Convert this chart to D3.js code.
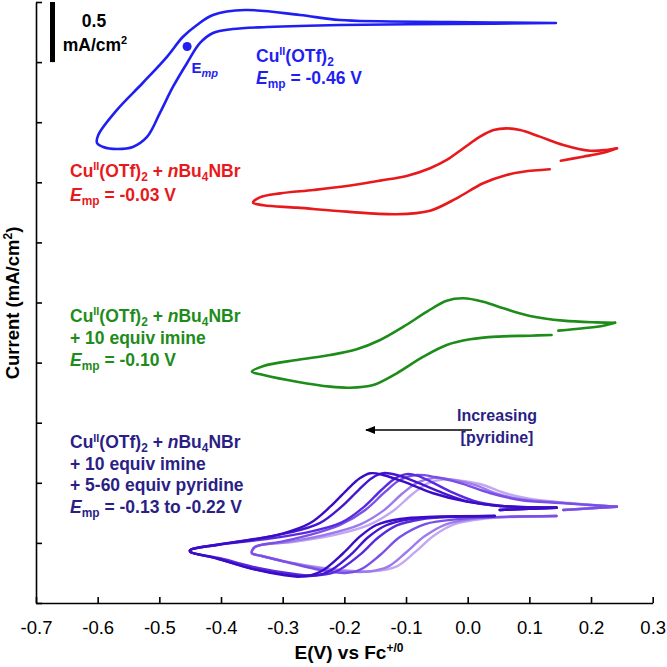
<!DOCTYPE html>
<html><head><meta charset="utf-8">
<script src="https://cdn.jsdelivr.net/npm/d3@7"></script>
<style>body{margin:0;background:#fff} svg{display:block} text{font-family:"Liberation Sans",Arial,sans-serif}</style>
</head><body><svg id="c" width="667" height="667"></svg>
<script>
// ---- data ----
const xTicks = [-0.7,-0.6,-0.5,-0.4,-0.3,-0.2,-0.1,0.0,0.1,0.2,0.3];
const yTicks = [0,0.5,1.0,1.5,2.0,2.5,3.0,3.5,4.0,4.5,5.0];
// [E (V), current incl. vertical offset (mA/cm2)]
const blueCV = [[0.143,4.825],[-0.029,4.834],[-0.207,4.850],[-0.272,4.892],[-0.361,4.933],[-0.413,4.892],[-0.439,4.809],[-0.462,4.709],[-0.488,4.542],[-0.527,4.326],[-0.569,4.101],[-0.599,3.894],[-0.601,3.827],
 [-0.591,3.794],[-0.569,3.777],[-0.543,3.794],[-0.520,3.877],[-0.499,4.077],[-0.478,4.293],[-0.455,4.493],[-0.434,4.659],[-0.413,4.742],[-0.381,4.775],[-0.325,4.792],[-0.207,4.809],[-0.029,4.817],[0.143,4.825]];
const redCVa = [[0.151,3.680],[0.187,3.713],[0.220,3.746],[0.242,3.783]];
const redCVb = [[0.242,3.783],[0.225,3.769],[0.198,3.763],[0.155,3.811],[0.117,3.880],[0.085,3.935],[0.063,3.949],[0.042,3.935],[0.020,3.880],[-0.007,3.783],[-0.034,3.686],[-0.061,3.617],[-0.099,3.553],[-0.142,3.514],[-0.196,3.469],[-0.250,3.436],[-0.304,3.408],[-0.337,3.375],[-0.348,3.331],
 [-0.331,3.309],[-0.277,3.289],[-0.196,3.256],[-0.115,3.234],[-0.061,3.264],[-0.018,3.367],[0.025,3.492],[0.063,3.561],[0.090,3.588],[0.133,3.608]];
const greenCVa = [[0.147,2.266],[0.187,2.286],[0.220,2.307],[0.239,2.332]];
const greenCVb = [[0.239,2.332],[0.209,2.335],[0.155,2.349],[0.101,2.388],[0.058,2.452],[0.025,2.507],[-0.007,2.535],[-0.034,2.515],[-0.066,2.424],[-0.104,2.299],[-0.142,2.188],[-0.180,2.111],[-0.223,2.063],[-0.277,2.022],[-0.331,1.972],[-0.350,1.924],
 [-0.331,1.897],[-0.277,1.841],[-0.223,1.800],[-0.191,1.791],[-0.153,1.814],[-0.115,1.911],[-0.072,2.049],[-0.034,2.147],[0.004,2.194],[0.047,2.216],[0.101,2.224],[0.136,2.230]];
// pyridine series, most pyridine (darkest) first
const pyr1a = [[0.052,0.774],[0.144,0.793]];
const pyr1b = [[0.144,0.793],[0.052,0.807],[-0.002,0.843],[-0.056,0.913],[-0.104,1.009],[-0.137,1.065],[-0.158,1.079],[-0.175,1.037],[-0.196,0.940],[-0.223,0.801],[-0.256,0.663],[-0.299,0.580],[-0.353,0.524],[-0.407,0.483],[-0.450,0.441],
 [-0.450,0.427],[-0.407,0.372],[-0.353,0.289],[-0.299,0.233],[-0.272,0.219],[-0.239,0.260],[-0.202,0.414],[-0.175,0.552],[-0.148,0.649],[-0.110,0.699],[-0.056,0.718],[0.044,0.724]];
const pyr2a = [[0.052,0.774],[0.144,0.793]];
const pyr2b = [[0.144,0.793],[0.052,0.807],[0.000,0.845],[-0.040,0.915],[-0.085,1.010],[-0.115,1.065],[-0.137,1.080],[-0.155,1.040],[-0.177,0.940],[-0.205,0.800],[-0.240,0.665],[-0.290,0.585],[-0.353,0.526],[-0.407,0.485],[-0.450,0.441],
 [-0.450,0.427],[-0.407,0.370],[-0.353,0.290],[-0.300,0.240],[-0.262,0.222],[-0.228,0.255],[-0.190,0.400],[-0.162,0.545],[-0.133,0.645],[-0.095,0.697],[-0.045,0.716],[0.044,0.724]];
const pyr3a = [[0.052,0.774],[0.144,0.793]];
const pyr3b = [[0.144,0.793],[0.052,0.810],[0.010,0.850],[-0.025,0.920],[-0.060,1.010],[-0.082,1.060],[-0.099,1.072],[-0.118,1.035],[-0.140,0.940],[-0.168,0.800],[-0.205,0.668],[-0.260,0.588],[-0.330,0.530],[-0.400,0.487],[-0.450,0.441],
 [-0.450,0.427],[-0.400,0.370],[-0.340,0.292],[-0.290,0.248],[-0.250,0.228],[-0.215,0.258],[-0.175,0.400],[-0.145,0.545],[-0.115,0.645],[-0.075,0.697],[-0.030,0.716],[0.044,0.724]];
const pyr4a = [[0.155,0.774],[0.242,0.801]];
const pyr4b = [[0.242,0.801],[0.198,0.815],[0.150,0.832],[0.085,0.857],[0.036,0.915],[-0.012,0.998],[-0.053,1.048],[-0.082,1.065],[-0.110,1.023],[-0.134,0.924],[-0.166,0.774],[-0.207,0.649],[-0.256,0.566],[-0.304,0.508],[-0.345,0.466],[-0.350,0.416],
 [-0.334,0.391],[-0.288,0.333],[-0.239,0.275],[-0.199,0.250],[-0.175,0.275],[-0.142,0.399],[-0.110,0.549],[-0.069,0.657],[-0.012,0.699],[0.052,0.716],[0.144,0.724]];
const pyr5a = [[0.155,0.774],[0.242,0.801]];
const pyr5b = [[0.242,0.801],[0.198,0.815],[0.150,0.835],[0.090,0.862],[0.050,0.905],[0.010,0.985],[-0.030,1.030],[-0.056,1.040],[-0.080,1.005],[-0.105,0.915],[-0.135,0.775],[-0.175,0.652],[-0.230,0.568],[-0.290,0.510],[-0.345,0.466],[-0.350,0.416],
 [-0.334,0.391],[-0.288,0.336],[-0.239,0.290],[-0.195,0.262],[-0.160,0.262],[-0.130,0.300],[-0.100,0.420],[-0.070,0.555],[-0.035,0.655],[0.010,0.700],[0.060,0.716],[0.144,0.724]];
const pyr6a = [[0.155,0.774],[0.242,0.801]];
const pyr6b = [[0.242,0.801],[0.198,0.818],[0.150,0.838],[0.100,0.868],[0.060,0.915],[0.020,0.990],[-0.015,1.020],[-0.040,1.028],[-0.065,0.995],[-0.090,0.905],[-0.120,0.770],[-0.160,0.650],[-0.215,0.567],[-0.280,0.510],[-0.345,0.466],[-0.350,0.416],
 [-0.334,0.391],[-0.288,0.338],[-0.239,0.295],[-0.190,0.268],[-0.150,0.265],[-0.115,0.305],[-0.085,0.425],[-0.055,0.560],[-0.020,0.658],[0.025,0.700],[0.075,0.716],[0.144,0.724]];
const empPoint = [-0.455, 4.63];
const pyrColors = ["#3a0cc6","#4516d2","#5a2ade","#7a4fe6","#9d7bec","#c2a8f3"];

// ---- chart ----
const svg = d3.select('#c');
const x = d3.scaleLinear().domain([-0.7,0.3]).range([36,652.7]);
const y = d3.scaleLinear().domain([0,5]).range([603,2]);
const line = d3.line().x(d=>x(d[0])).y(d=>y(d[1])).curve(d3.curveCatmullRom.alpha(0.5));

svg.append('g').attr('transform','translate(0,603)')
  .call(d3.axisBottom(x).tickValues(xTicks).tickSize(-6).tickSizeOuter(0).tickPadding(18).tickFormat(d=>d.toFixed(1)))
  .call(g=>{g.selectAll('path,line').attr('stroke','#000').attr('stroke-width',1.6);
            g.selectAll('text').attr('font-size',18.5).attr('fill','#000').attr('font-family','"Liberation Sans",Arial,sans-serif');});
svg.append('g').attr('transform','translate(36,0)')
  .call(d3.axisLeft(y).tickValues(yTicks).tickSize(-6).tickSizeOuter(0).tickFormat(''))
  .call(g=>g.selectAll('path,line').attr('stroke','#000').attr('stroke-width',1.6));

function curve(data, color, w){
  svg.append('path').datum(data).attr('d',line).attr('fill','none').attr('stroke',color)
    .attr('stroke-width',w).attr('stroke-linejoin','round').attr('stroke-linecap','round');
}
const BLUE='#1f1ff2', RED='#e8191c', GREEN='#1e8c1a', NAVY='#2b1f85';
curve(blueCV, BLUE, 2.6);
curve(redCVa, RED, 2.6); curve(redCVb, RED, 2.6);
curve(greenCVa, GREEN, 2.6); curve(greenCVb, GREEN, 2.6);
const pyr = [[pyr6a,pyr6b],[pyr5a,pyr5b],[pyr4a,pyr4b],[pyr3a,pyr3b],[pyr2a,pyr2b],[pyr1a,pyr1b]];
pyr.forEach((p,i)=>{ const c = pyrColors[5-i]; curve(p[0],c,2.4); curve(p[1],c,2.4); });
svg.append('circle').attr('cx',x(empPoint[0])).attr('cy',y(empPoint[1])).attr('r',4.5).attr('fill',BLUE);

// rich text helper: each line is its own <text>
function rich(px, py, lines, color, size, lh){
  lines.forEach((parts,li)=>{
    const t = svg.append('text').attr('x',px).attr('y',py+li*lh).attr('fill',color).attr('font-size',size).attr('font-weight','bold');
    let cur = 0;
    parts.forEach(p=>{
      let shift=0, fs=size;
      if(p.sup){shift=-0.38*size; fs=0.62*size;}
      if(p.sub){shift=0.22*size; fs=0.68*size;}
      const s = t.append('tspan').text(p.t).attr('font-size',fs).attr('dy',shift-cur);
      if(p.i) s.attr('font-style','italic');
      cur = shift;
    });
  });
}
const CU = [{t:'Cu'},{t:'II',sup:1},{t:'(OTf)'},{t:'2',sub:1}];
const NBU = [{t:' + '},{t:'n',i:1},{t:'Bu'},{t:'4',sub:1},{t:'NBr'}];
function emp(v){return [{t:'E',i:1},{t:'mp',sub:1},{t:' = '+v}];}
rich(256,61.7,[CU,emp('-0.46 V')],BLUE,17.5,22.5);
rich(70,176.7,[[...CU,...NBU],emp('-0.03 V')],RED,17.5,24);
rich(70,321.7,[[...CU,...NBU],[{t:'+ 10 equiv imine'}],emp('-0.10 V')],GREEN,17.5,22.3);
rich(70,448.3,[[...CU,...NBU],[{t:'+ 10 equiv imine'}],[{t:'+ 5-60 equiv pyridine'}],emp('-0.13 to -0.22 V')],NAVY,17.5,21.5);
// E_mp marker label
const el = svg.append('text').attr('x',191.5).attr('y',72.7).attr('fill',BLUE).attr('font-size',15).attr('font-weight','bold');
el.append('tspan').text('E');
el.append('tspan').text('mp').attr('font-style','italic').attr('font-size',11).attr('dy',4);

// scale bar
svg.append('line').attr('x1',52.5).attr('x2',52.5).attr('y1',y(5)).attr('y2',y(4.5)).attr('stroke','#000').attr('stroke-width',5);
svg.append('text').attr('x',94).attr('y',26.5).attr('text-anchor','middle').attr('font-size',17.5).attr('font-weight','bold').text('0.5');
const mt = svg.append('text').attr('x',95).attr('y',50.5).attr('text-anchor','middle').attr('font-size',17.5).attr('font-weight','bold');
mt.append('tspan').text('mA/cm'); mt.append('tspan').text('2').attr('font-size',11).attr('dy',-7);

// axis titles
const xt = svg.append('text').attr('x',349).attr('y',659).attr('text-anchor','middle').attr('font-size',19).attr('font-weight','bold');
xt.append('tspan').text('E(V) vs Fc'); xt.append('tspan').text('+/0').attr('font-size',12).attr('dy',-7.5);
const yt = svg.append('text').attr('transform','translate(19,303) rotate(-90)').attr('text-anchor','middle').attr('font-size',18.5).attr('font-weight','bold');
yt.append('tspan').text('Current (mA/cm'); yt.append('tspan').text('2').attr('font-size',12).attr('dy',-7); yt.append('tspan').text(')').attr('dy',7);

// arrow annotation
svg.append('defs').append('marker').attr('id','ah').attr('viewBox','0 0 10 10').attr('refX',9).attr('refY',5)
  .attr('markerWidth',7).attr('markerHeight',7).attr('orient','auto')
  .append('path').attr('d','M0,1 L10,5 L0,9 Z').attr('fill','#000');
svg.append('line').attr('x1',472).attr('y1',430).attr('x2',366).attr('y2',430).attr('stroke','#000').attr('stroke-width',1.5).attr('marker-end','url(#ah)');
svg.append('text').attr('x',497).attr('y',421).attr('text-anchor','middle').attr('font-size',16).attr('font-weight','bold').attr('fill',NAVY).text('Increasing');
svg.append('text').attr('x',497).attr('y',443).attr('text-anchor','middle').attr('font-size',16).attr('font-weight','bold').attr('fill',NAVY).text('[pyridine]');
</script></body></html>
